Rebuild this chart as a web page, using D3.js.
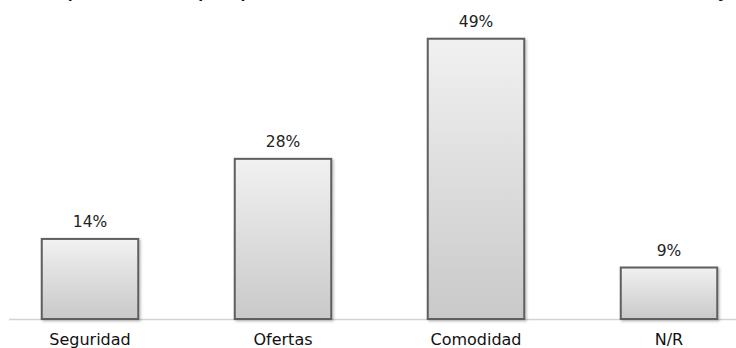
<!DOCTYPE html>
<html><head><meta charset="utf-8">
<script src="https://cdn.jsdelivr.net/npm/d3@7"></script>
<style>html,body{margin:0;padding:0;background:#fff;}svg{display:block;}</style>
</head><body>
<svg id="c" width="736" height="348"></svg>
<script>
const categories = ["Seguridad", "Ofertas", "Comodidad", "N/R"];
const values = [14, 28, 49, 9];
const valueLabels = ["14%", "28%", "49%", "9%"];
const titleText = "Motivo para hacer compras por Internet en vez de hacerlo en el comercio tradicional y";

const svg = d3.select("#c");
const W = 736, H = 348;
const baseY = 319;
const x = d3.scaleBand().domain(categories).range([-6.5, 765.5]).paddingInner(0.5).paddingOuter(0.25);
const y = d3.scaleLinear().domain([0, 50]).range([baseY, 33]);

const defs = svg.append("defs");
const g = defs.append("linearGradient").attr("id", "bg").attr("x1", 0).attr("x2", 0).attr("y1", 0).attr("y2", 1);
g.append("stop").attr("offset", "0%").attr("stop-color", "#f1f1f1");
g.append("stop").attr("offset", "100%").attr("stop-color", "#c9c9c9");
const f = defs.append("filter").attr("id", "sh").attr("x", "-10%").attr("y", "-10%").attr("width", "130%").attr("height", "130%");
f.append("feDropShadow").attr("dx", 1.5).attr("dy", 1.5).attr("stdDeviation", 1).attr("flood-color", "#000").attr("flood-opacity", 0.25);

// title, clipped at the top edge as in the reference
svg.append("text").attr("x", 6).attr("y", -2.5).attr("font-family", "Liberation Sans, Arial, sans-serif")
  .attr("font-size", 16).attr("font-weight", "bold").attr("fill", "#111")
  .attr("textLength", 722).attr("lengthAdjust", "spacingAndGlyphs").text(titleText);

// axis line
svg.append("line").attr("x1", 9).attr("x2", W).attr("y1", baseY + 0.5).attr("y2", baseY + 0.5)
  .attr("stroke", "#d4d4d4").attr("stroke-width", 1.5);

svg.selectAll("rect.bar").data(categories).join("rect").attr("class", "bar")
  .attr("x", d => x(d))
  .attr("y", (d, i) => y(values[i]))
  .attr("width", x.bandwidth())
  .attr("height", (d, i) => baseY - y(values[i]))
  .attr("fill", "url(#bg)")
  .attr("stroke", "#5e5e5e").attr("stroke-width", 2)
  .attr("filter", "url(#sh)");

svg.selectAll("text.val").data(categories).join("text").attr("class", "val")
  .attr("x", d => x(d) + x.bandwidth() / 2)
  .attr("y", (d, i) => y(values[i]) - 12)
  .attr("text-anchor", "middle").attr("font-family", "DejaVu Sans, sans-serif").attr("font-size", 15.5)
  .attr("fill", "#222").text((d, i) => valueLabels[i]);

svg.selectAll("text.cat").data(categories).join("text").attr("class", "cat")
  .attr("x", d => x(d) + x.bandwidth() / 2)
  .attr("y", 345)
  .attr("text-anchor", "middle").attr("font-family", "DejaVu Sans, sans-serif").attr("font-size", 16)
  .attr("fill", "#111").text(d => d);
</script>
</body></html>
